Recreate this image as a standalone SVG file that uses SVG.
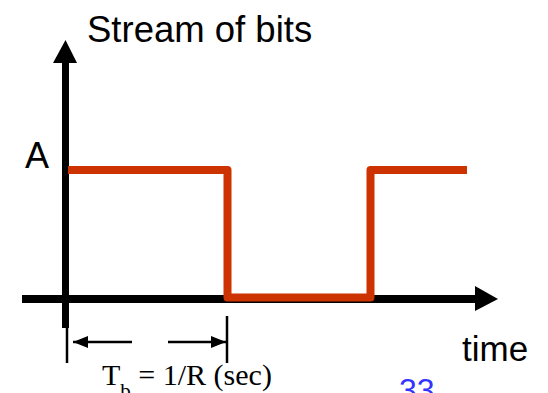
<svg xmlns="http://www.w3.org/2000/svg" width="548" height="393" viewBox="0 0 548 393">
<style>
.lbl{font-family:"Liberation Sans",Arial,sans-serif;fill:#000}
.ax{stroke:#000;fill:none}
.dim{stroke:#000;stroke-width:2.5;fill:none}
</style>
<defs>
<marker id="ah" markerUnits="userSpaceOnUse" markerWidth="16" markerHeight="12" refX="15" refY="6" orient="auto">
<path d="M0,0 L15,6 L0,12 z" fill="#000"/>
</marker>
</defs>
<rect width="548" height="393" fill="#fff"/>
<g id="axes">
<line class="ax" x1="65.5" y1="62" x2="65.5" y2="328" stroke-width="7"/>
<path d="M53,63 L65.5,40 L77,63 z" fill="#000"/>
<line class="ax" x1="22" y1="299" x2="477" y2="299" stroke-width="8"/>
<path d="M475,286 L498,299 L475,311 z" fill="#000"/>
</g>
<g id="signal">
<path d="M68,170 L227.5,170 L227.5,297.5 L370.5,297.5 L370.5,170 L467,170" fill="none" stroke="#CC3300" stroke-width="8" stroke-linejoin="round"/>
</g>
<g id="connectors">
<line class="dim" x1="67" y1="327" x2="67" y2="363"/>
<line class="dim" x1="227" y1="316" x2="227" y2="363"/>
<line class="dim" x1="132" y1="342" x2="73" y2="342" marker-end="url(#ah)"/>
<line class="dim" x1="168" y1="342" x2="226" y2="342" marker-end="url(#ah)"/>
</g>
<g id="labels">
<text class="lbl" x="87" y="42" font-size="36.5">Stream of bits</text>
<text class="lbl" x="25" y="168" font-size="36">A</text>
<text class="lbl" x="462" y="361" font-size="35">time</text>
<text x="102" y="385" font-family="'Liberation Serif','Times New Roman',serif" font-size="30" fill="#000">T<tspan font-size="21" dy="13">b</tspan><tspan dy="-13"> = 1/R (sec)</tspan></text>
<text x="399" y="401" font-family="'Liberation Sans',Arial,sans-serif" font-size="32" fill="#3333FF">33</text>
</g>
</svg>
